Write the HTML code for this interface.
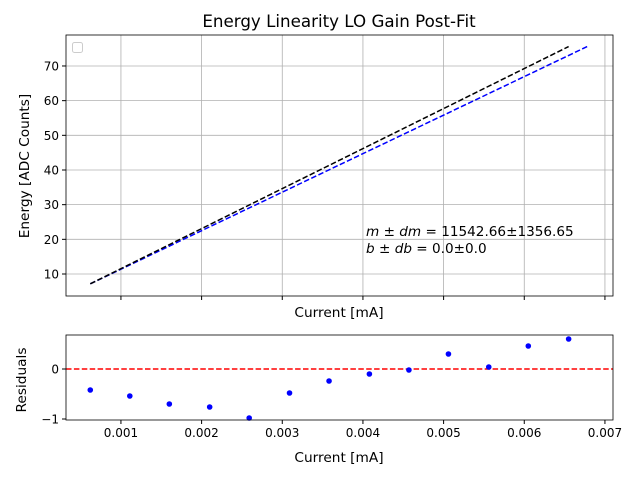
<!DOCTYPE html>
<html><head><meta charset="utf-8"><style>
body{margin:0;background:#fff}
svg{display:block;font-family:"DejaVu Sans","Liberation Sans",sans-serif}
</style></head><body>
<svg id="c" width="640" height="480" viewBox="0 0 640 480"></svg>
<script>
const currents=[0.00062,0.00111,0.00160,0.00210,0.00259,0.00309,0.00358,0.00408,0.00457,0.00506,0.00556,0.00605,0.00655];
const residuals=[-0.42,-0.54,-0.70,-0.76,-0.98,-0.48,-0.24,-0.10,-0.02,0.30,0.04,0.46,0.60];
const fitSlope=11542.66;
const blueX=[0.00062,0.00678];
const blueY=[7.16,75.6];
const xTicks=[0.001,0.002,0.003,0.004,0.005,0.006,0.007];
const yTicks=[10,20,30,40,50,60,70];
const rTicks=[-1,0];

const NS="http://www.w3.org/2000/svg",svg=document.getElementById('c');
function el(t,a,txt){const e=document.createElementNS(NS,t);for(const k in a)e.setAttribute(k,a[k]);if(txt!=null)e.textContent=txt;svg.appendChild(e);return e;}
const L=66,R=613,T1=35,B1=296,T2=335,B2=420;
const xmin=0.000319,xmax=0.0071;
const X=v=>L+(v-xmin)/(xmax-xmin)*(R-L);
const Y=v=>274-(v-10)*3.467;
const RY=v=>369-v*50;

xTicks.forEach(t=>{const g=el('line',{x1:X(t),x2:X(t),y1:T1,y2:B1,stroke:'#b0b0b0','stroke-width':0.8});});
yTicks.forEach(t=>{const g=el('line',{x1:L,x2:R,y1:Y(t),y2:Y(t),stroke:'#b0b0b0','stroke-width':0.8});
 el('line',{x1:L-4,x2:L,y1:Y(t),y2:Y(t),stroke:'#000'});
 const tl=el('text',{x:L-7,y:Y(t)+4.5,'text-anchor':'end','font-size':12},String(t));});
xTicks.forEach(t=>el('line',{x1:X(t),x2:X(t),y1:B1,y2:B1+4,stroke:'#000'}));

const bl=el('line',{x1:X(blueX[0]),y1:Y(blueY[0]),x2:X(blueX[1]),y2:Y(blueY[1]),stroke:'#0000ff','stroke-width':1.5,'stroke-dasharray':'5.5,2.4'});

const c0=currents[0],c1=currents[currents.length-1];
const kl=el('line',{x1:X(c0),y1:Y(c0*fitSlope),x2:X(c1),y2:Y(c1*fitSlope),stroke:'#000','stroke-width':1.5,'stroke-dasharray':'5.5,2.4'});


const fr=el('rect',{x:L,y:T1,width:R-L,height:B1-T1,fill:'none',stroke:'#000','stroke-width':0.8});

const lg=el('rect',{x:72.5,y:42.5,width:10,height:10,rx:2,fill:'#fff',stroke:'#ccc'});


const ti=el('text',{x:339,y:27,'text-anchor':'middle','font-size':16.7},'Energy Linearity LO Gain Post-Fit');

const yl=el('text',{x:0,y:0,'text-anchor':'middle','font-size':13.7,transform:'translate(29,166) rotate(-90)'},'Energy [ADC Counts]');

const xl=el('text',{x:339,y:317,'text-anchor':'middle','font-size':13.7},'Current [mA]');

const a1=el('text',{x:366,y:236,'font-size':13.6});a1.innerHTML='<tspan font-style="italic">m</tspan> ± <tspan font-style="italic">dm</tspan> = 11542.66±1356.65';

const a2=el('text',{x:366,y:253,'font-size':13.6});a2.innerHTML='<tspan font-style="italic">b</tspan> ± <tspan font-style="italic">db</tspan> = 0.0±0.0';


xTicks.forEach(t=>{el('line',{x1:X(t),x2:X(t),y1:B2,y2:B2+4,stroke:'#000'});
 const tl=el('text',{x:X(t),y:B2+17,'text-anchor':'middle','font-size':12},String(t));});
rTicks.forEach(t=>{el('line',{x1:L-4,x2:L,y1:RY(t),y2:RY(t),stroke:'#000'});
 const tl=el('text',{x:L-7,y:RY(t)+4.5,'text-anchor':'end','font-size':12},t<0?'\u2212'+Math.abs(t):String(t));});
const zl=el('line',{x1:L,x2:R,y1:RY(0),y2:RY(0),stroke:'#ff0000','stroke-width':1.5,'stroke-dasharray':'5.5,2.4'});

currents.forEach((c,i)=>{const p=el('circle',{cx:X(c),cy:RY(residuals[i]),r:2.8,fill:'#0000ff'});
 });
const fr2=el('rect',{x:L,y:T2,width:R-L,height:B2-T2,fill:'none',stroke:'#000','stroke-width':0.8});

const ryl=el('text',{x:0,y:0,'text-anchor':'middle','font-size':13.7,transform:'translate(26,380) rotate(-90)'},'Residuals');

const rxl=el('text',{x:339,y:462,'text-anchor':'middle','font-size':13.7},'Current [mA]');

</script>
</body></html>
